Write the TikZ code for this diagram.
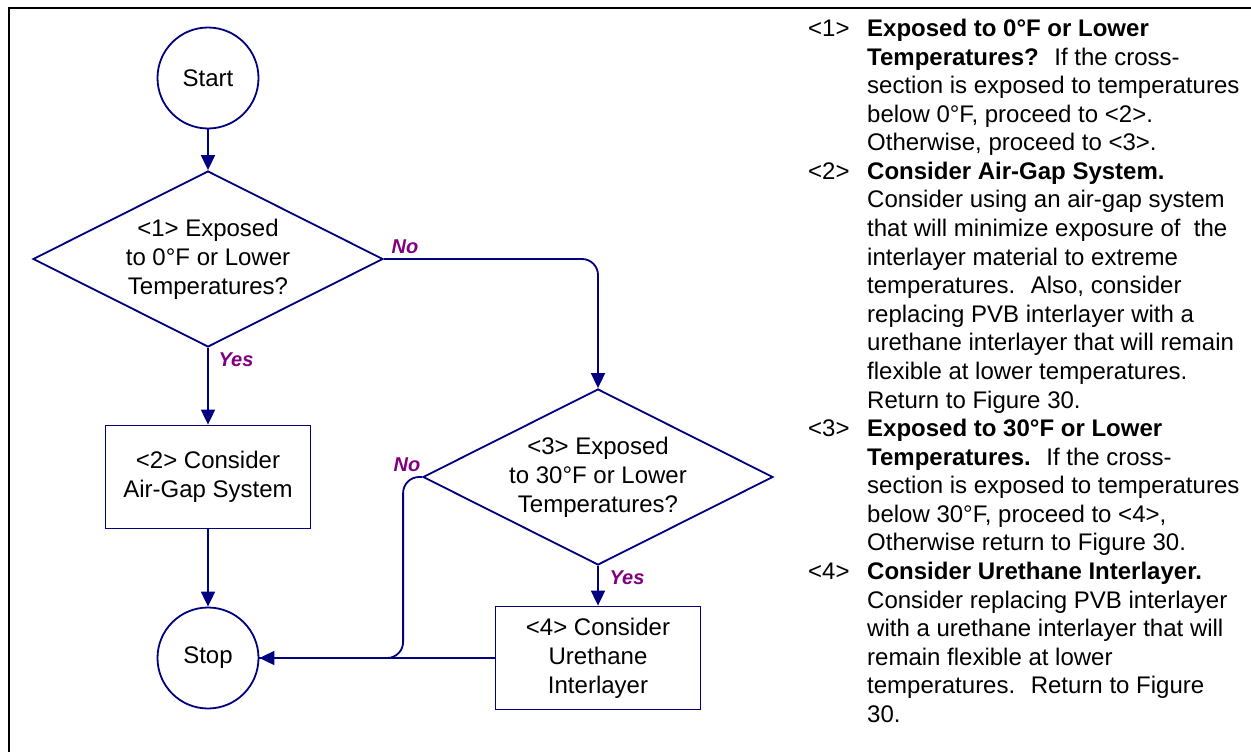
\documentclass[tikz,border=0pt]{standalone}
\usepackage{fontspec}
\setmainfont{Liberation Sans}
\usetikzlibrary{shapes.geometric,arrows.meta}
\definecolor{navy}{RGB}{0,0,128}
\definecolor{lblpurple}{RGB}{128,0,128}
\begin{document}
\begin{tikzpicture}[x=1pt,y=-1pt,
  every node/.style={font=\fontsize{24}{29}\selectfont},
  term/.style={circle,draw=navy,line width=1.8pt,minimum size=101pt,inner sep=0pt,align=center},
  dec/.style={diamond,aspect=2,draw=navy,line width=1.8pt,minimum width=350pt,minimum height=176pt,inner sep=0pt,align=center},
  proc/.style={rectangle,draw=navy,line width=1.8pt,minimum width=205pt,minimum height=103pt,inner sep=0pt,align=center},
  conn/.style={draw=navy,line width=1.8pt,-{Triangle[length=15pt,width=14pt]}},
  plain/.style={draw=navy,line width=1.8pt},
  lbl/.style={text=lblpurple,font=\fontsize{20}{22}\selectfont\bfseries\itshape,inner sep=0pt},
  num/.style={anchor=base west,inner sep=0pt},
  body/.style={anchor=base west,inner sep=0pt},
]
\useasboundingbox (0,0) rectangle (1251,752);
% frame
\coordinate (fbl) at (9,760);
\coordinate (ftl) at (9,8);
\coordinate (ftr) at (1260,8);
\draw[line width=2.5pt] (fbl) -- (ftl) -- (ftr);

% flowchart nodes
\node[term] (start) at (208,78) {Start};
\node[dec] (d1) at (208,259) {<1> Exposed\\to 0°F or Lower\\Temperatures?};
\node[proc] (b2) at (208,477) {<2> Consider\\Air-Gap System};
\node[term] (stop) at (208,658) {Stop};
\node[dec] (d3) at (598,477) {<3> Exposed\\to 30°F or Lower\\Temperatures?};
\node[proc] (b4) at (598,658) {<4> Consider\\Urethane\\Interlayer};

% connectors
\draw[conn] (start) -- (d1);
\draw[conn] (d1) -- (b2);
\draw[conn] (b2) -- (stop);
\draw[conn,rounded corners=16pt] (d1.east) -| (d3.north);
\draw[conn] (d3) -- (b4);
\draw[conn,rounded corners=16pt] (d3.west) -- ++(-19,0) |- (stop.east);
\draw[plain] (b4.west) -- (stop.east);

% labels
\node[lbl] (no1) at (405,247) {No};
\node[lbl] (yes1) at (236,360) {Yes};
\node[lbl] (no3) at (407,465) {No};
\node[lbl] (yes3) at (627,578) {Yes};

% descriptions
\node[num] (n1) at (808,36.5) {<1>};
\node[body] (l1) at (867,36.5) {\bfseries Exposed to 0°F or Lower};
\node[body] (l2) at (867,65.08) {\textbf{Temperatures?}~ If the cross-};
\node[body] (l3) at (867,93.66) {section is exposed to temperatures};
\node[body] (l4) at (867,122.24) {below 0°F, proceed to <2>.};
\node[body] (l5) at (867,150.82) {Otherwise, proceed to <3>.};
\node[num] (n2) at (808,179.40) {<2>};
\node[body] (l6) at (867,179.40) {\bfseries Consider Air-Gap System.};
\node[body] (l7) at (867,207.98) {Consider using an air-gap system};
\node[body] (l8) at (867,236.56) {that will minimize exposure of~ the};
\node[body] (l9) at (867,265.14) {interlayer material to extreme};
\node[body] (l10) at (867,293.72) {temperatures.~ Also, consider};
\node[body] (l11) at (867,322.30) {replacing PVB interlayer with a};
\node[body] (l12) at (867,350.88) {urethane interlayer that will remain};
\node[body] (l13) at (867,379.46) {flexible at lower temperatures.};
\node[body] (l14) at (867,408.04) {Return to Figure 30.};
\node[num] (n3) at (808,436.62) {<3>};
\node[body] (l15) at (867,436.62) {\bfseries Exposed to 30°F or Lower};
\node[body] (l16) at (867,465.20) {\textbf{Temperatures.}~ If the cross-};
\node[body] (l17) at (867,493.78) {section is exposed to temperatures};
\node[body] (l18) at (867,522.36) {below 30°F, proceed to <4>,};
\node[body] (l19) at (867,550.94) {Otherwise return to Figure 30.};
\node[num] (n4) at (808,579.52) {<4>};
\node[body] (l20) at (867,579.52) {\bfseries Consider Urethane Interlayer.};
\node[body] (l21) at (867,608.10) {Consider replacing PVB interlayer};
\node[body] (l22) at (867,636.68) {with a urethane interlayer that will};
\node[body] (l23) at (867,665.26) {remain flexible at lower};
\node[body] (l24) at (867,693.84) {temperatures.~ Return to Figure};
\node[body] (l25) at (867,722.42) {30.};
\end{tikzpicture}
\end{document}
